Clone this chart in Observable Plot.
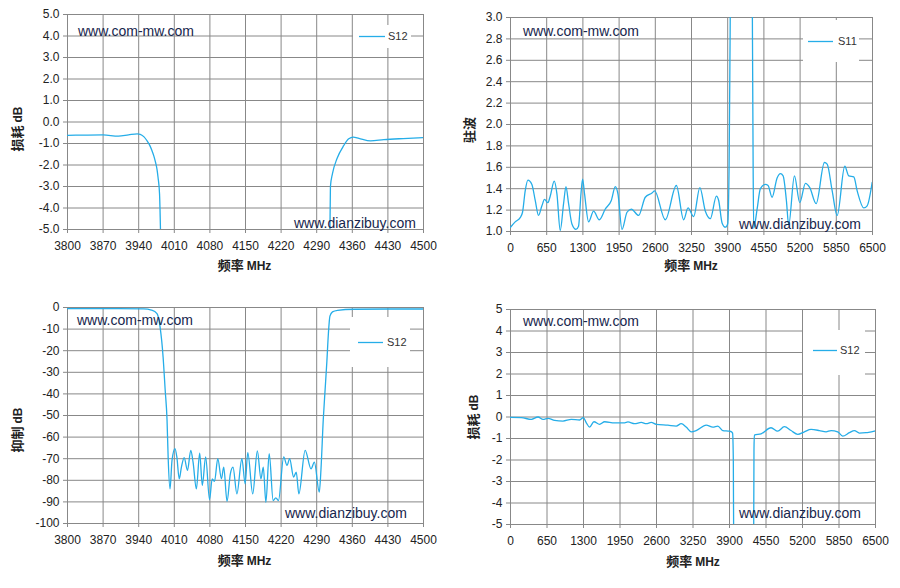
<!DOCTYPE html>
<html>
<head>
<meta charset="utf-8">
<script src="https://cdn.jsdelivr.net/npm/d3@7"></script>
<script src="https://cdn.jsdelivr.net/npm/@observablehq/plot@0.6"></script>
<style>
  body { margin: 0; background: #fff; }
  #wrap { position: relative; width: 900px; height: 588px; overflow: hidden; background: #fff;
          font-family: "Liberation Sans", Arial, sans-serif; }
  .panel { position: absolute; }
  .wm { position: absolute; font-size: 14px; line-height: 14px; color: #17264d; white-space: nowrap; }
  .legend { position: absolute; background: #fff; }
  .legend svg { position: absolute; left: 0; top: 0; }
  .legend .lt { position: absolute; font-size: 11px; line-height: 11px; color: #333; white-space: nowrap; }
  .ttl { position: absolute; white-space: nowrap; font-weight: bold; color: #222; line-height: 1;
         font-family: "Noto Sans CJK SC", "Liberation Sans", sans-serif; font-size: 13px; }
  .ttl span { font-family: "Liberation Sans", Arial, sans-serif; font-size: 12px; }
  .ttlx { transform: translate(-50%, -50%); }
  .ttly { transform: translate(-50%, -50%) rotate(-90deg); }
</style>
</head>
<body>
<div id="wrap"></div>
<script>
// ---------- data ----------
const narrowTicks = [3800, 3870, 3940, 4010, 4080, 4150, 4220, 4290, 4360, 4430, 4500];
const wideTicks = [0, 650, 1300, 1950, 2600, 3250, 3900, 4550, 5200, 5850, 6500];
const passYTicks = [-5, -4, -3, -2, -1, 0, 1, 2, 3, 4, 5];
const vswrYTicks = [1.0, 1.2, 1.4, 1.6, 1.8, 2.0, 2.2, 2.4, 2.6, 2.8, 3.0];
const rejYTicks = [-100, -90, -80, -70, -60, -50, -40, -30, -20, -10, 0];
const wideYTicks = [-5, -4, -3, -2, -1, 0, 1, 2, 3, 4, 5];

// panel 1: S12 passband-notch loss (MHz, dB)
const passFreq = [3800, 3830, 3870, 3900, 3920, 3937, 3943, 3950, 3956, 3962, 3966, 3970, 3973, 3976, 3978, 3981, 3983, 3986, 3990,
  4310, 4314, 4316, 4317, 4321, 4330, 4343, 4353, 4362, 4373, 4396, 4422, 4460, 4500];
const passLoss = [-0.62, -0.61, -0.60, -0.66, -0.60, -0.55, -0.57, -0.68, -0.86, -1.1, -1.33, -1.6, -1.87, -2.2, -2.57, -3.35, -5.2, -9, -30,
  -30, -9, -5.2, -3.0, -2.4, -1.7, -1.1, -0.78, -0.70, -0.76, -0.88, -0.82, -0.77, -0.73];

// panel 2: S11 VSWR
const vswrFreq = [0, 84, 174, 216, 264, 312, 384, 444, 503, 564, 611, 672, 713, 785, 834, 893, 953, 996, 1043, 1103, 1175, 1222,
  1265, 1294, 1330, 1402, 1492, 1594, 1702, 1810, 1882, 1930, 2002, 2092, 2169, 2300, 2420, 2541, 2588, 2780, 2978, 3109, 3188,
  3289, 3400, 3499, 3589, 3697, 3738, 3799, 3858, 3900, 3925, 3940, 3952, 3970, 4320, 4338, 4348, 4358, 4367, 4428, 4487, 4577,
  4625, 4697, 4787, 4847, 4895, 4954, 4995, 5098, 5194, 5296, 5374, 5488, 5637, 5686, 5776, 5866, 6002, 6074, 6164, 6225, 6344,
  6404, 6494];
const vswrVal = [1.04, 1.09, 1.13, 1.18, 1.38, 1.48, 1.44, 1.29, 1.15, 1.24, 1.30, 1.27, 1.33, 1.47, 1.35, 1.01, 1.26, 1.42, 1.26, 1.07, 1.02, 1.05,
  1.35, 1.49, 1.35, 1.09, 1.19, 1.11, 1.21, 1.29, 1.42, 1.35, 1.02, 1.18, 1.21, 1.15, 1.32, 1.36, 1.38, 1.11, 1.43, 1.11, 1.22,
  1.14, 1.41, 1.19, 1.12, 1.33, 1.29, 1.08, 1.04, 1.07, 1.6, 2.6, 3.6, 8, 8, 3.6, 2.5, 1.5, 1.03, 1.21, 1.40, 1.44,
  1.43, 1.32, 1.50, 1.54, 1.52, 1.29, 1.06, 1.52, 1.27, 1.45, 1.41, 1.26, 1.645, 1.63, 1.38, 1.15, 1.61, 1.52, 1.51, 1.38, 1.22,
  1.24, 1.46];

// panel 3: S12 rejection
const rejFreq = [3800, 3900, 3950, 3965, 3976, 3982, 3988, 3992, 3995.7, 3998, 4001.6, 4005.5, 4011.3, 4015, 4019.7, 4024, 4029.4,
  4035.9, 4042.4, 4046.9, 4053.4, 4059.9, 4065.1, 4071.6, 4079.3, 4084.5, 4089.1, 4095.5, 4102.7, 4107.2, 4113.7, 4120.2, 4125.4,
  4133.1, 4142.9, 4149.3, 4154.5, 4164.2, 4173.3, 4180.4, 4185, 4190.1, 4196.6, 4204.4, 4209.6, 4214.8, 4225.1, 4231.6, 4236.8,
  4244.6, 4249.8, 4254.9, 4267.3, 4278.9, 4285.4, 4295.1, 4298.4, 4302.9, 4306, 4310, 4313, 4316, 4321, 4331, 4363, 4430, 4500];
const rejVal = [-0.5, -0.5, -0.6, -1.2, -2.8, -9, -23, -38, -52, -70, -84, -70.8, -65.3, -69.2, -79.3, -73.9, -69.5,
  -75.4, -66.1, -71.6, -84, -67.4, -82.4, -69.2, -88.9, -79.3, -80.5, -70, -79.3, -73.9, -89.8, -77, -73.9,
  -86.3, -70, -81.6, -67.2, -86.3, -66.4, -79.3, -73.9, -90.2, -67.7, -89.4, -88.1, -89.4, -69.2, -73.1, -70,
  -78.5, -76.2, -86.3, -66.1, -74.7, -71.6, -85.5, -75, -52, -40, -25, -12, -4, -2, -1.3, -0.8, -0.7, -0.7];

// panel 4: S12 wideband loss
const wideFreq = [0, 193, 371, 490, 580, 668, 786, 934, 1083, 1231, 1297, 1350, 1409, 1486, 1587, 1676, 1854, 2032, 2091, 2210,
  2329, 2418, 2506, 2595, 2803, 2951, 3040, 3129, 3218, 3307, 3485, 3604, 3693, 3781, 3900, 3930, 3955, 3968, 3975, 3990,
  4320, 4330, 4336, 4343, 4462, 4640, 4758, 4877, 4996, 5115, 5234, 5352, 5500, 5619, 5708, 5827, 5916, 6035, 6124, 6213, 6331, 6480, 6500];
const wideLoss = [-0.02, -0.03, -0.11, 0.0, -0.11, -0.06, -0.16, -0.19, -0.11, -0.14, -0.03, -0.27, -0.47, -0.22, -0.34, -0.22, -0.27, -0.27, -0.23, -0.31,
  -0.25, -0.31, -0.25, -0.34, -0.38, -0.42, -0.31, -0.47, -0.69, -0.63, -0.38, -0.47, -0.42, -0.63, -0.66, -0.68, -0.75, -2, -6, -40,
  -40, -6, -1.5, -0.84, -0.78, -0.5, -0.66, -0.45, -0.63, -0.81, -0.69, -0.58, -0.63, -0.69, -0.63, -0.69, -0.89, -0.73, -0.63, -0.75, -0.73, -0.66, -0.64];

// ---------- rendering ----------
const LINE = "#25ade8", GRID = "#888888";
const wrap = document.getElementById("wrap");

function makePanel(o) {
  const svg = Plot.plot({
    width: o.w, height: o.h,
    marginLeft: o.ml, marginRight: o.mr, marginTop: o.mt, marginBottom: o.mb,
    style: { fontSize: "12px", fontFamily: "Liberation Sans, Arial, sans-serif", background: "transparent", color: "#222" },
    x: { domain: o.xDomain },
    y: { domain: o.yDomain },
    marks: [
      Plot.gridX(o.xTicks, { stroke: GRID, strokeOpacity: 1, strokeWidth: 1 }),
      Plot.gridY(o.yTicks, { stroke: GRID, strokeOpacity: 1, strokeWidth: 1 }),
      Plot.axisX(o.xTicks, { tickSize: 4, tickPadding: 8, stroke: GRID, fill: "#222", tickFormat: d => String(d), label: null }),
      Plot.axisY(o.yTicks, { tickSize: 4, tickPadding: 4, stroke: GRID, fill: "#222", tickFormat: o.yFmt, label: null }),
      Plot.line(o.xs, { x: o.xs, y: o.ys, stroke: LINE, strokeWidth: 1.3, curve: "monotone-x", clip: true })
    ]
  });
  const div = document.createElement("div");
  div.className = "panel";
  div.style.left = o.left + "px";
  div.style.top = o.top + "px";
  div.appendChild(svg);
  wrap.appendChild(div);
}

function addDiv(cls, styles, html) {
  const d = document.createElement("div");
  d.className = cls;
  Object.assign(d.style, styles);
  d.innerHTML = html || "";
  wrap.appendChild(d);
  return d;
}

function addLegend(box, label) {
  const [L, T, W, H, sx, sy, sw, tx] = box;
  const d = addDiv("legend", { left: L + "px", top: T + "px", width: W + "px", height: H + "px" });
  d.innerHTML = `<svg width="${W}" height="${H}"><line x1="${sx}" x2="${sx + sw}" y1="${sy + 0.5}" y2="${sy + 0.5}" stroke="${LINE}" stroke-width="1.3"/></svg>`;
  const t = document.createElement("div");
  t.className = "lt";
  Object.assign(t.style, { left: tx + "px", top: (sy - 5) + "px" });
  t.textContent = label;
  d.appendChild(t);
}

makePanel({ left: 0, top: 0, w: 450, h: 290, ml: 67, mr: 27, mt: 14, mb: 61,
  xDomain: [3800, 4500], yDomain: [-5, 5], xTicks: narrowTicks, yTicks: passYTicks,
  yFmt: d => d.toFixed(1), xs: passFreq, ys: passLoss });
makePanel({ left: 450, top: 0, w: 450, h: 290, ml: 60, mr: 28, mt: 17, mb: 59,
  xDomain: [0, 6500], yDomain: [1, 3], xTicks: wideTicks, yTicks: vswrYTicks,
  yFmt: d => d.toFixed(1), xs: vswrFreq, ys: vswrVal });
makePanel({ left: 0, top: 290, w: 450, h: 298, ml: 67, mr: 27, mt: 17, mb: 65,
  xDomain: [3800, 4500], yDomain: [-100, 0], xTicks: narrowTicks, yTicks: rejYTicks,
  yFmt: d => String(d), xs: rejFreq, ys: rejVal });
makePanel({ left: 450, top: 290, w: 450, h: 298, ml: 60, mr: 25, mt: 19, mb: 64,
  xDomain: [0, 6500], yDomain: [-5, 5], xTicks: wideTicks, yTicks: wideYTicks,
  yFmt: d => String(d), xs: wideFreq, ys: wideLoss });

// watermarks
[[78, 24, "www.com-mw.com"], [294, 216, "www.dianzibuy.com"],
 [523, 24, "www.com-mw.com"], [739, 216.5, "www.dianzibuy.com"],
 [77, 313, "www.com-mw.com"], [285, 506, "www.dianzibuy.com"],
 [523, 314, "www.com-mw.com"], [739, 506, "www.dianzibuy.com"]].forEach(([x, y, t]) =>
  addDiv("wm", { left: x + "px", top: y + "px" }, t));

// legends: [left, top, w, h, swatchLeft, swatchTop, swatchW, textLeft]
addLegend([353, 25, 58, 23, 6, 11, 26, 35], "S12");
addLegend([803, 20, 56, 42, 5, 21, 25, 35], "S11");
addLegend([350, 317, 60, 50, 8, 25, 25, 37], "S12");
addLegend([803, 330, 62, 45, 10, 20, 24, 37], "S12");

// axis titles
[[244.5, 265, "频率 <span>MHz</span>"], [691, 265, "频率 <span>MHz</span>"],
 [244.5, 560, "频率 <span>MHz</span>"], [693, 561, "频率 <span>MHz</span>"]].forEach(([x, y, t]) =>
  addDiv("ttl ttlx", { left: x + "px", top: y + "px" }, t));
[[17, 129, "损耗 <span>dB</span>"], [468, 130, "驻波"],
 [17, 430, "抑制 <span>dB</span>"], [473, 417, "损耗 <span>dB</span>"]].forEach(([x, y, t]) =>
  addDiv("ttl ttly", { left: x + "px", top: y + "px" }, t));
</script>
</body>
</html>
